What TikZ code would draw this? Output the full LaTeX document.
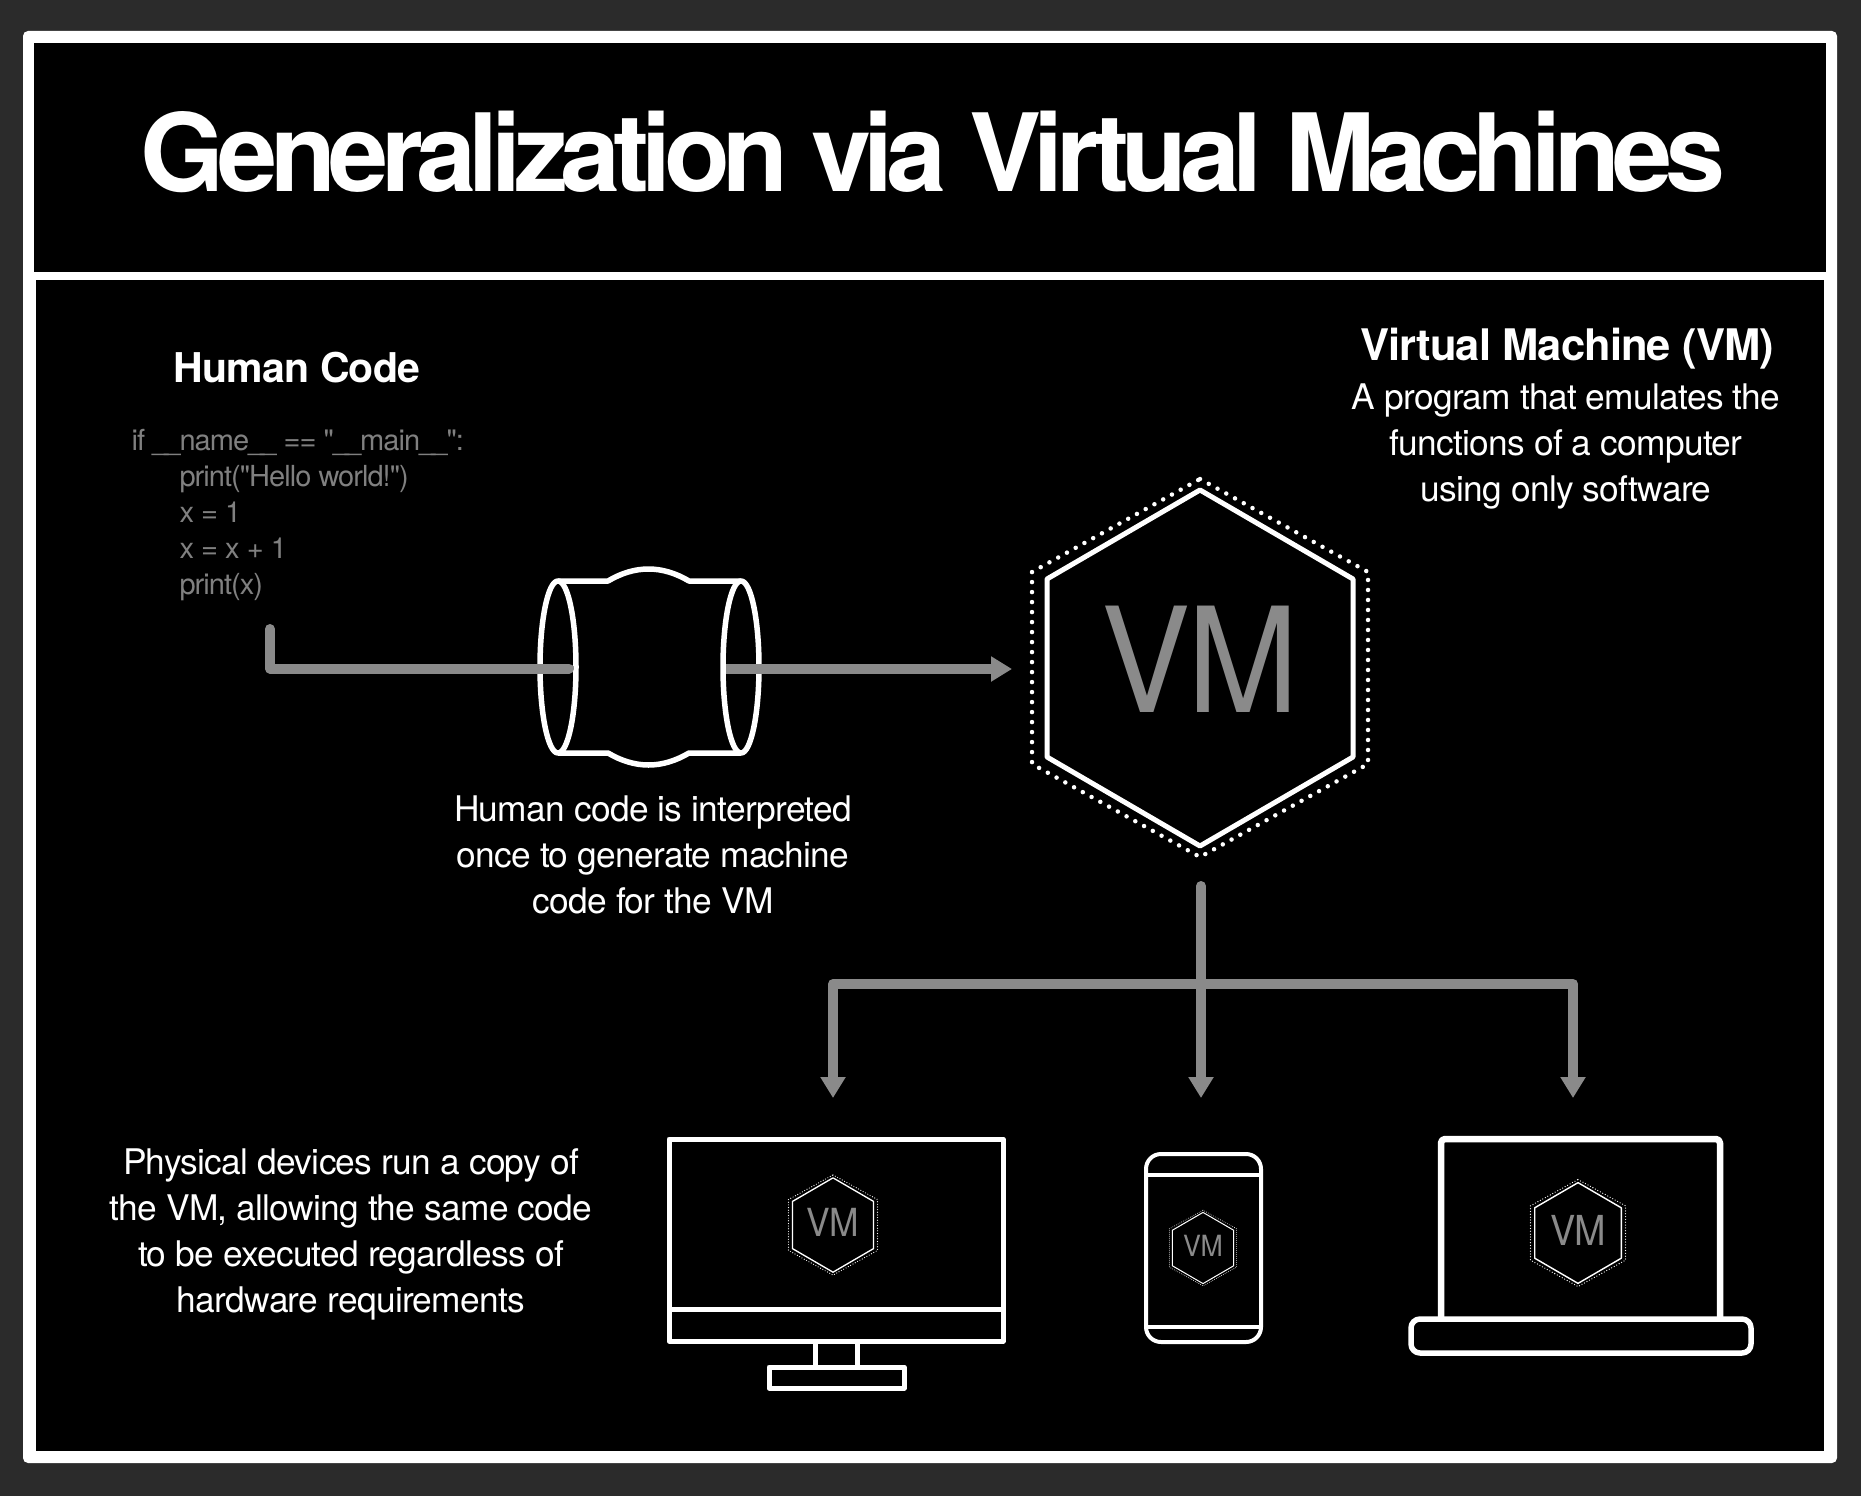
\documentclass[tikz,border=0pt]{standalone}
\usepackage{fontspec}
\setmainfont{TeX Gyre Heros}[LetterSpace=-2]
\newfontfamily\titlefont{TeX Gyre Heros}[LetterSpace=-6.9]
\newfontfamily\codefont{TeX Gyre Heros}[LetterSpace=-3.3]
\usetikzlibrary{arrows.meta}

\definecolor{framegrey}{HTML}{2B2B2B}
\definecolor{flowgrey}{HTML}{8A8A8A}
\definecolor{codegrey}{HTML}{808080}

\tikzset{
    outline/.style={draw=white, line width=5pt, line join=round},
    flow/.style={draw=flowgrey, line width=10pt, line join=round},
    flowtip/.style={flow, -{Triangle[length=21pt, width=24pt]}},
    bodytext/.style={text=white, align=center, font=\fontsize{35.3}{46}\selectfont},
    headtext/.style={text=white, align=center}
}

\newcommand{\dunder}{\_\kern-4pt\_}

% Sechseck mit VM: Mitte, Skalierung, Name
\newcommand{\vmhex}[3]{
    \pgfmathsetmacro{\hexline}{#2*5}
    \pgfmathsetmacro{\hexdot}{#2*4.5}
    \pgfmathsetmacro{\hexgap}{#2*10}
    \pgfmathsetmacro{\hexfont}{#2*146}
    \begin{scope}[shift={(#1)}, scale=#2]
        \draw[outline, line width=\hexline pt] (0,-178) -- (153,-89) -- (153,89) -- (0,178) -- (-153,89) -- (-153,-89) -- cycle;
        \draw[draw=white, line width=\hexdot pt, line cap=round, dash pattern=on 0pt off \hexgap pt]
            (0,-189) -- (168,-96) -- (168,96) -- (0,189) -- (-168,96) -- (-168,-96) -- cycle;
        \node[text=flowgrey, font=\fontsize{\hexfont}{\hexfont}\selectfont, xscale=.915] (#3) at (0,-9) {VM};
    \end{scope}
}

\begin{document}
\begin{tikzpicture}[x=1pt, y=-1pt]

    % 1. Hintergrund und Rahmen
    \fill[framegrey] (0,0) rectangle (1861,1496);
    \fill[white, rounded corners=5pt] (23,31) rectangle (1837,1463);
    \fill[black] (34,43) rectangle (1826,272);
    \fill[black] (36,280) rectangle (1824,1451);
    \useasboundingbox (0,0) rectangle (1861,1496);

    % 2. Ueberschriften und Texte
    \node[text=white, font=\fontsize{108}{108}\selectfont\titlefont\bfseries] (title) at (933,152) {Generalization via Virtual Machines};
    \node[headtext, font=\fontsize{41}{46}\selectfont\bfseries] (humanhead) at (297,368) {Human Code};
    \node[text=codegrey, align=left, anchor=north west, font=\fontsize{29}{36}\selectfont\codefont] (code) at (128,425.5)
        {if \dunder name\dunder{} == "\dunder main\dunder":\\
        \hspace*{48pt}print("Hello world!")\\
        \hspace*{48pt}x = 1\\
        \hspace*{48pt}x = x + 1\\
        \hspace*{48pt}print(x)};
    \node[headtext, font=\fontsize{43.5}{46}\selectfont\bfseries] (vmhead) at (1567,348.5) {Virtual Machine (VM)};
    \node[bodytext] (vmtext) at (1566,446.5) {A program that emulates the\\functions of a computer\\using only software};
    \node[bodytext] (interptext) at (653,855) {Human code is interpreted\\once to generate machine\\code for the VM};
    \node[bodytext] (devicetext) at (351,1234.5) {Physical devices run a copy of\\the VM, allowing the same code\\to be executed regardless of\\hardware requirements};

    % 3. Interpreter
    \coordinate (codeend) at (270,629);
    \coordinate (codecorner) at (270,668.5);
    \coordinate (pipein) at (569,668.5);
    \coordinate (pipeout) at (726,669);
    \coordinate (vmin) at (1012,669);
    \draw[outline, line width=5.5pt] (558,581) -- (608,581) .. controls (635,565) and (662,565) .. (689,581) -- (741,581);
    \draw[outline, line width=5.5pt] (558,753) -- (608,753) .. controls (635,769) and (662,769) .. (689,753) -- (741,753);
    \draw[outline, line width=5.5pt] (558,667) ellipse [x radius=18, y radius=86];
    \draw[outline, line width=5.5pt] (741,667) ellipse [x radius=18, y radius=86];
    \draw[flow, line cap=round] (codeend) -- (codecorner) -- (pipein);
    \draw[flowtip] (pipeout) -- (vmin);

    % 4. Virtuelle Maschine
    \vmhex{1200,668}{1}{vmbig}

    % 5. Verteilung auf die Geraete
    \coordinate (stem) at (1201,886);
    \coordinate (branchleft) at (833,984);
    \coordinate (branchright) at (1573,984);
    \coordinate (tipleft) at (833,1098);
    \coordinate (tipmid) at (1201,1098);
    \coordinate (tipright) at (1573,1098);
    \draw[flowtip, line cap=round] (stem) -- (tipmid);
    \draw[flowtip] (branchleft) -- (tipleft);
    \draw[flowtip] (branchright) -- (tipright);
    \draw[flow, line cap=round] (branchleft) -- (branchright);

    % Monitor
    \draw[outline] (669,1139) rectangle (1003,1341);
    \draw[outline] (669,1309) -- (1003,1309);
    \draw[outline] (815,1341) -- (815,1367);
    \draw[outline] (857,1341) -- (857,1367);
    \draw[outline] (769,1367) rectangle (904,1388);
    \vmhex{833,1225}{0.265}{vmdesk}

    % Telefon
    \draw[outline, line width=4pt, rounded corners=15pt] (1146,1154) rectangle (1261,1342);
    \draw[outline, line width=4pt] (1146,1175) -- (1261,1175);
    \draw[outline, line width=4pt] (1146,1327) -- (1261,1327);
    \vmhex{1203,1248}{0.2}{vmphone}

    % Laptop
    \draw[outline, line width=6.5pt, rounded corners=4pt] (1441,1319) -- (1441,1139) -- (1720,1139) -- (1720,1319);
    \draw[outline, line width=5.5pt, rounded corners=9pt] (1411,1319) rectangle (1751,1353);
    \vmhex{1578,1233}{0.283}{vmlaptop}

\end{tikzpicture}
\end{document}
